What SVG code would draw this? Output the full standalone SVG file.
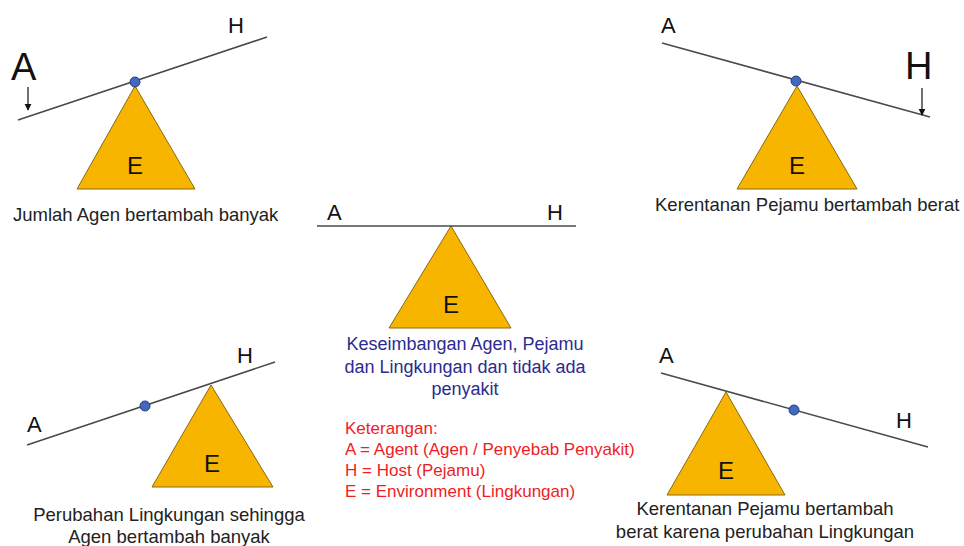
<svg xmlns="http://www.w3.org/2000/svg" width="964" height="546" viewBox="0 0 964 546">
<defs>
<marker id="ah" viewBox="0 0 10 10" refX="9" refY="5" markerWidth="6" markerHeight="6" orient="auto"><path d="M0,0 L10,5 L0,10 z" fill="#111"/></marker>
<style>
.beam{stroke:#4a4a4a;stroke-width:1.6;fill:none}
.tri{fill:#F7B500;stroke:#8a6a10;stroke-width:1}
.dot{fill:#4169c0;stroke:#243e7a;stroke-width:1}
.lbl{font-family:"Liberation Sans",Arial,sans-serif;fill:#111}
.e{font-size:24px;text-anchor:middle}
.s{font-size:22px}
.b{font-size:38px}
.cap{font-family:"Liberation Sans",Arial,sans-serif;font-size:18.5px;fill:#222}
.blue{font-family:"Liberation Sans",Arial,sans-serif;font-size:18px;fill:#2b2c8f;text-anchor:middle}
.red{font-family:"Liberation Sans",Arial,sans-serif;font-size:17px;fill:#f01c24}
.arr{stroke:#111;stroke-width:1.2;marker-end:url(#ah)}
</style>
</defs>
<rect width="964" height="546" fill="#fff"/>

<g id="panel-agent">
<polygon class="tri" points="135,86 77,189 195,189"/>
<text class="lbl e" x="135" y="174">E</text>
<text class="lbl b" x="11" y="80">A</text>
<text class="lbl s" x="228" y="33">H</text>
<text class="cap" x="13" y="221">Jumlah Agen bertambah banyak</text>
</g>

<g id="panel-host">
<polygon class="tri" points="797,86 737,189 857,189"/>
<text class="lbl e" x="797" y="174">E</text>
<text class="lbl s" x="661" y="33">A</text>
<text class="lbl b" x="905" y="79">H</text>
<text class="cap" x="655" y="211">Kerentanan Pejamu bertambah berat</text>
</g>

<g id="panel-balance">
<polygon class="tri" points="451,226 389,328 511,328"/>
<text class="lbl e" x="451" y="313">E</text>
<text class="lbl s" x="327" y="220">A</text>
<text class="lbl s" x="547" y="220">H</text>
<text class="blue" x="465" y="350">Keseimbangan Agen, Pejamu</text>
<text class="blue" x="465" y="373">dan Lingkungan dan tidak ada</text>
<text class="blue" x="465" y="395">penyakit</text>
</g>

<g id="legend">
<text class="red" x="345" y="434">Keterangan:</text>
<text class="red" x="345" y="455">A = Agent (Agen / Penyebab Penyakit)</text>
<text class="red" x="345" y="476">H = Host (Pejamu)</text>
<text class="red" x="345" y="497">E = Environment (Lingkungan)</text>
</g>

<g id="panel-environment-agent">
<polygon class="tri" points="211,385 152,487 273,487"/>
<text class="lbl e" x="212" y="472">E</text>
<text class="lbl s" x="27" y="432">A</text>
<text class="lbl s" x="237" y="363">H</text>
<text class="cap" x="169" y="521" text-anchor="middle">Perubahan Lingkungan sehingga</text>
<text class="cap" x="169" y="543" text-anchor="middle">Agen bertambah banyak</text>
</g>

<g id="panel-environment-host">
<polygon class="tri" points="726,392 667,495 785,495"/>
<text class="lbl e" x="726" y="479">E</text>
<text class="lbl s" x="659" y="363">A</text>
<text class="lbl s" x="896" y="428">H</text>
<text class="cap" x="765" y="515" text-anchor="middle">Kerentanan Pejamu bertambah</text>
<text class="cap" x="765" y="538" text-anchor="middle">berat karena perubahan Lingkungan</text>
</g>

<g id="connectors">
<line class="beam" x1="18" y1="120" x2="267" y2="37"/>
<circle class="dot" cx="135" cy="82" r="5"/>
<line class="arr" x1="28" y1="87" x2="28" y2="110"/>

<line class="beam" x1="662" y1="43" x2="930" y2="117"/>
<circle class="dot" cx="796" cy="81" r="5"/>
<line class="arr" x1="922" y1="88" x2="922" y2="115"/>

<line class="beam" x1="317" y1="226" x2="576" y2="226"/>

<line class="beam" x1="27" y1="445" x2="275" y2="362"/>
<circle class="dot" cx="145" cy="406" r="5"/>

<line class="beam" x1="661" y1="373" x2="928" y2="447"/>
<circle class="dot" cx="794" cy="410" r="5"/>
</g>
</svg>
